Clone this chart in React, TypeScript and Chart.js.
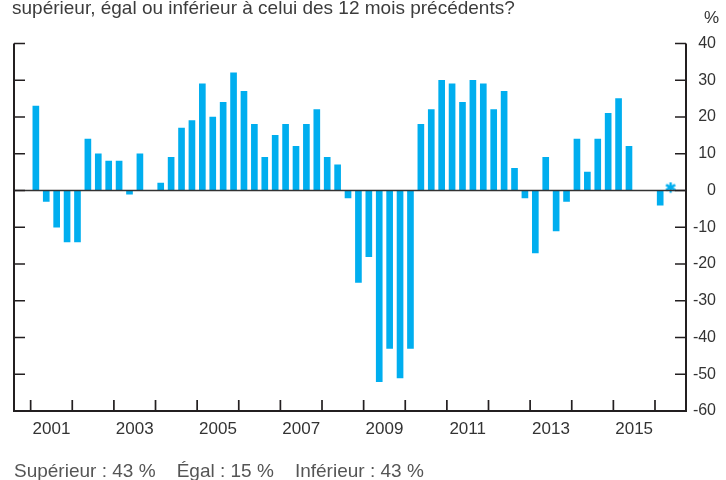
import React, { useEffect, useRef } from 'react';
import { Chart, registerables } from 'chart.js';

Chart.register(...registerables);

// ---- Data ----
const startYear = 2001;
const quarterValues: (number | null)[] = [
  23, -3, -10, -14,   // 2001
  -14, 14, 10, 8,     // 2002
  8, -1, 10, 0,       // 2003
  2, 9, 17, 19,       // 2004
  29, 20, 24, 32,     // 2005
  27, 18, 9, 15,      // 2006
  18, 12, 18, 22,     // 2007
  9, 7, -2, -25,      // 2008
  -18, -52, -43, -51, // 2009
  -43, 18, 22, 30,    // 2010
  29, 24, 30, 29,     // 2011
  22, 27, 6, -2,      // 2012
  -17, 9, -11, -3,    // 2013
  14, 5, 14, 21,      // 2014
  25, 12, null, null, // 2015
  -4,                 // 2016
];
const asteriskQuarterIndex = [61]; // 2016 T2 (0-based index from 2001 T1)
const asteriskValues = [0];
const yearTickValues = [2001, 2002, 2003, 2004, 2005, 2006, 2007, 2008, 2009, 2010, 2011, 2012, 2013, 2014, 2015, 2016];
const yearLabels = ['2001', '2003', '2005', '2007', '2009', '2011', '2013', '2015'];
const yTickValues = [40, 30, 20, 10, 0, -10, -20, -30, -40, -50, -60];
const titleText = 'supérieur, égal ou inférieur à celui des 12 mois précédents?';
const footText = 'Supérieur : 43 %\u00a0\u00a0\u00a0\u00a0Égal : 15 %\u00a0\u00a0\u00a0\u00a0Inférieur : 43 %';

const BLUE = '#00aeef';
const DARK = '#231f20';
const FONT = "'Liberation Sans', Arial, Helvetica, sans-serif";

const quarterX = (i: number) => startYear + (i + 0.5) / 4;

function makeAsterisk(): HTMLCanvasElement {
  const c = document.createElement('canvas');
  c.width = 18;
  c.height = 18;
  const g = c.getContext('2d')!;
  g.strokeStyle = BLUE;
  g.lineWidth = 2.4;
  g.lineCap = 'butt';
  const cx = 9;
  const cy = 6;
  const r = 5.3;
  g.beginPath();
  [90, 30, 150].forEach((deg) => {
    const a = (deg * Math.PI) / 180;
    g.moveTo(cx - r * Math.cos(a), cy - r * Math.sin(a));
    g.lineTo(cx + r * Math.cos(a), cy + r * Math.sin(a));
  });
  g.stroke();
  return c;
}

const framePlugin = {
  id: 'frame',
  afterDatasetsDraw(chart: any) {
    const { ctx, chartArea, scales } = chart;
    const { left, right, top, bottom } = chartArea;
    const x = scales.x;
    const y = scales.y;
    ctx.save();
    // zero line
    const y0 = y.getPixelForValue(0);
    ctx.strokeStyle = '#333333';
    ctx.lineWidth = 1.6;
    ctx.beginPath();
    ctx.moveTo(left, y0);
    ctx.lineTo(right, y0);
    ctx.stroke();
    // frame
    ctx.strokeStyle = DARK;
    ctx.lineWidth = 2;
    ctx.beginPath();
    ctx.moveTo(left, top);
    ctx.lineTo(left, bottom);
    ctx.lineTo(right, bottom);
    ctx.lineTo(right, top);
    ctx.stroke();
    // y ticks (inward)
    ctx.lineWidth = 1.7;
    ctx.beginPath();
    yTickValues.forEach((v) => {
      const py = y.getPixelForValue(v);
      ctx.moveTo(left, py);
      ctx.lineTo(left + 11, py);
      ctx.moveTo(right - 11, py);
      ctx.lineTo(right, py);
    });
    // x ticks (inward)
    yearTickValues.forEach((v) => {
      const px = x.getPixelForValue(v);
      ctx.moveTo(px, bottom);
      ctx.lineTo(px, bottom - 11);
    });
    ctx.stroke();
    ctx.restore();
  },
};

export default function App() {
  const ref = useRef<HTMLCanvasElement | null>(null);

  useEffect(() => {
    if (!ref.current) return;
    const barData = quarterValues.map((v, i) => ({ x: quarterX(i), y: v }));
    const starData = asteriskQuarterIndex.map((qi, k) => ({ x: quarterX(qi), y: asteriskValues[k] }));
    const chart = new Chart(ref.current, {
      type: 'bar',
      data: {
        datasets: [
          {
            type: 'bar',
            data: barData as any,
            backgroundColor: BLUE,
            borderWidth: 0,
            barThickness: 6,
          },
          {
            type: 'scatter',
            data: starData as any,
            pointStyle: makeAsterisk() as any,
            pointRadius: 9,
          } as any,
        ],
      },
      options: {
        animation: false,
        responsive: true,
        maintainAspectRatio: false,
        layout: { padding: { left: 14, top: 43.5, right: 10, bottom: 0 } },
        plugins: { legend: { display: false }, tooltip: { enabled: false }, title: { display: false } },
        scales: {
          x: {
            type: 'linear',
            offset: false,
            min: 2000.6,
            max: 2016.745,
            grid: { display: false, drawTicks: false },
            border: { display: false },
            afterBuildTicks: (scale: any) => {
              scale.ticks = yearTickValues.map((v) => ({ value: v }));
            },
            afterFit: (scale: any) => {
              scale.height = 69;
            },
            ticks: {
              autoSkip: false,
              maxRotation: 0,
              padding: 8,
              labelOffset: 20.8,
              color: '#333333',
              font: { family: FONT, size: 17 },
              callback: (v: any) => (yearLabels.includes(String(v)) ? String(v) : ''),
            },
          },
          y: {
            position: 'right',
            min: -60,
            max: 40,
            grid: { display: false, drawTicks: false },
            border: { display: false },
            afterBuildTicks: (scale: any) => {
              scale.ticks = yTickValues.map((v) => ({ value: v }));
            },
            afterFit: (scale: any) => {
              scale.width = 30;
            },
            ticks: {
              padding: 8,
              crossAlign: 'far',
              color: '#333333',
              font: { family: FONT, size: 16 },
            },
          },
        },
      } as any,
      plugins: [framePlugin],
    });
    return () => chart.destroy();
  }, []);

  return (
    <div style={{ position: 'fixed', left: 0, top: 0, width: 726, height: 480, background: '#fff', overflow: 'hidden' }}>
      <canvas ref={ref} style={{ position: 'absolute', left: 0, top: 0, width: 726, height: 480 }} />
      <div
        style={{
          position: 'absolute', left: 12, top: -2, fontFamily: FONT, fontSize: 19,
          lineHeight: '19px', color: '#3c3c3c', whiteSpace: 'nowrap',
        }}
      >
        {titleText}
      </div>
      <div
        style={{
          position: 'absolute', left: 704, top: 9, fontFamily: FONT, fontSize: 17,
          lineHeight: '17px', color: '#333333', whiteSpace: 'nowrap',
        }}
      >
        %
      </div>
      <div
        style={{
          position: 'absolute', left: 14, top: 460.5, fontFamily: FONT, fontSize: 19,
          lineHeight: '19px', color: '#555555', whiteSpace: 'nowrap',
        }}
      >
        {footText}
      </div>
    </div>
  );
}
